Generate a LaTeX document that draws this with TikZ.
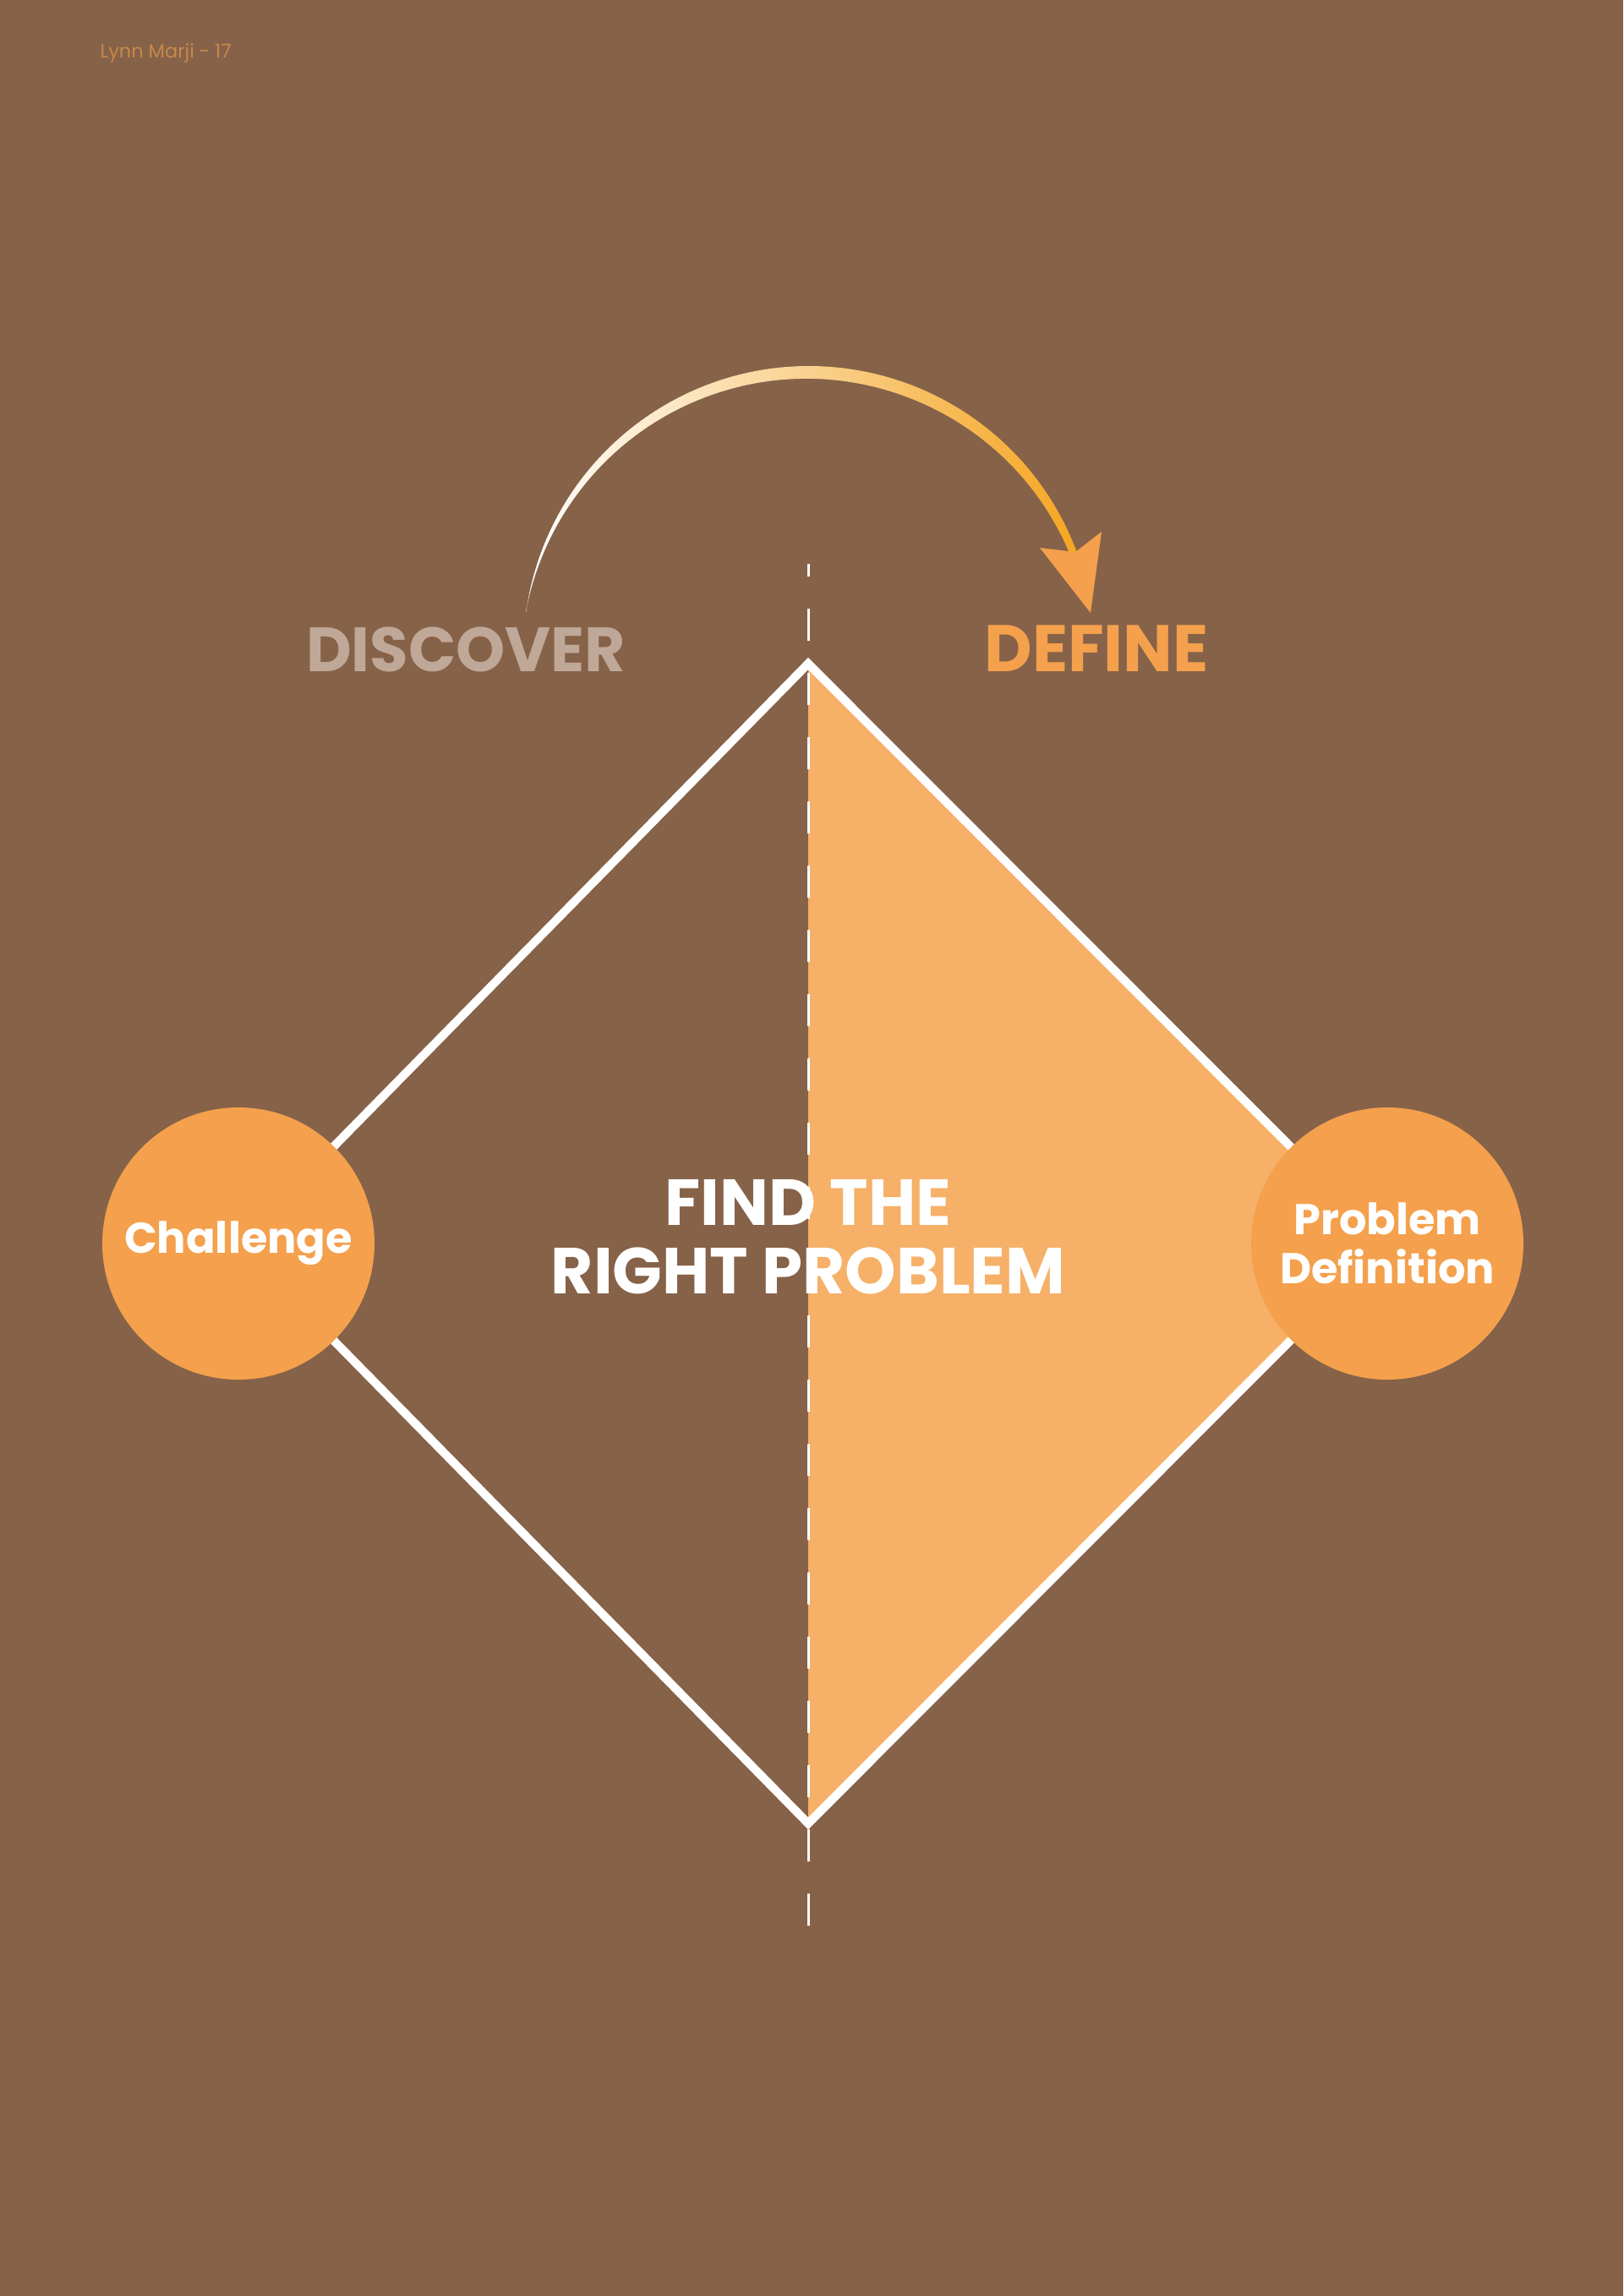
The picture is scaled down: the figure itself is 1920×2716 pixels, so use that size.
\documentclass[tikz,border=0pt]{standalone}
\usepackage{fontspec}
\setmainfont{Poppins}
\usepackage{tikz}
\definecolor{bgbrown}{HTML}{866249}
\definecolor{halfpeach}{HTML}{F6B068}
\definecolor{discorange}{HTML}{F4A04C}
\definecolor{discovergrey}{HTML}{C0A899}
\definecolor{authortan}{HTML}{C8874B}
\definecolor{arcpeach}{HTML}{FFD99C}
\definecolor{arcorange}{HTML}{F5A623}
\tikzset{
  rim/.style={draw=white, line width=10pt, line join=miter},
  axis/.style={draw=white, line width=3pt, dash pattern=on 38pt off 38pt, dash phase=23pt},
  disc/.style={circle, fill=discorange, minimum size=322pt, inner sep=0pt, text=white, align=center, font=\fontsize{51}{58}\selectfont\bfseries},
  phase/.style={anchor=base, font=\fontsize{74}{80}\selectfont\bfseries},
  headline/.style={text=white, align=center, font=\fontsize{77}{81}\selectfont\bfseries}
}

\begin{document}
\begin{tikzpicture}[x=1pt, y=-1pt]
  \fill[bgbrown] (0,0) rectangle (1920,2716);
  \useasboundingbox (0,0) rectangle (1920,2716);

  \node[anchor=base west, text=authortan, font=\fontsize{22.5}{26}\selectfont] (page) at (115,69) {Lynn Marji - 17};

  \coordinate (top) at (956,785);
  \coordinate (bot) at (956,2157);
  \coordinate (left) at (282,1471);
  \coordinate (right) at (1641,1471);
  \coordinate (axtop) at (956,667);
  \coordinate (axbot) at (956,2282);

  % define half of the diamond
  \fill[halfpeach] (top) -- (right) -- (bot) -- cycle;
  \draw[axis] (axtop) -- (axbot);
  \draw[rim] (left) -- (top) -- (right) -- (bot) -- cycle;

  \node[disc] (chal) at (left) {Challenge};
  \node[disc] (pdef) at (right) {Problem\\Definition};

  \node[phase, text=discovergrey] (disc) at (551,794) {DISCOVER};
  \node[phase, text=discorange, font=\fontsize{78}{80}\selectfont\bfseries] (defn) at (1297,794) {DEFINE};

  % arrow from discover to define
  \coordinate (arcstart) at (622.3,724);
  \coordinate (arcinner) at (1266.6,658.1);
  \shade[left color=white, middle color=arcpeach, right color=arcorange]
    (arcstart) arc[start angle=-172, end angle=-20, radius=338]
    -- (arcinner) arc[start angle=-22.2, end angle=-169.47, radius=337.7] -- cycle;
  \coordinate (notch) at (1272,653);
  \coordinate (barbl) at (1230,648);
  \coordinate (tip) at (1290,725);
  \coordinate (barbr) at (1303,629);
  \fill[discorange] (notch) -- (barbl) -- (tip) -- (barbr) -- cycle;

  \node[headline] (find) at (956,1463) {FIND THE\\RIGHT PROBLEM};
\end{tikzpicture}
\end{document}
